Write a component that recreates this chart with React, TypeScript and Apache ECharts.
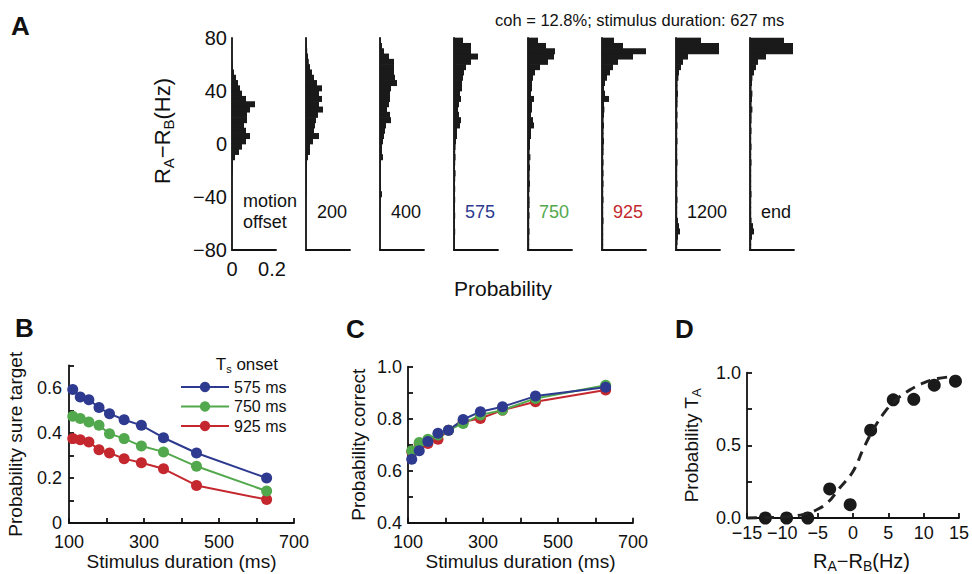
import React, { useEffect, useRef } from 'react';
import * as echarts from 'echarts';

const FONT = '"Liberation Sans", Arial, Helvetica, sans-serif';
const INK = '#111111';
const BAR = '#1a1a1a';
const BLUE = '#2d3a8f';
const GREEN = '#52a84d';
const RED = '#c4282e';

// ---- Panel A: histogram bins (Hz, bin centres, top to bottom; bins are 4 Hz wide) ----
const BIN_WIDTH = 4;
const binCenters = [
  78, 74, 70, 66, 62, 58, 54, 50, 46, 42,
  38, 34, 30, 26, 22, 18, 14, 10, 6, 2,
  -2, -6, -10, -14, -18, -22, -26, -30, -34, -38,
  -42, -46, -50, -54, -58, -62, -66, -70, -74, -78,
];
const histLabels = ['motion\noffset', '200', '400', '575', '750', '925', '1200', 'end'];
const histLabelColors = [INK, INK, INK, BLUE, GREEN, RED, INK, INK];

const histMotionOffset = [
  0, 0, 0, 0, 0.002, 0.004, 0.01, 0.02, 0.03, 0.04,
  0.05, 0.07, 0.115, 0.09, 0.075, 0.075, 0.06, 0.07, 0.09, 0.07,
  0.05, 0.035, 0.015, 0.005, 0.004, 0.002, 0, 0, 0, 0,
  0, 0, 0, 0, 0, 0, 0, 0, 0, 0,
];
const hist200 = [
  0.002, 0.004, 0.006, 0.01, 0.014, 0.02, 0.03, 0.04, 0.055, 0.08,
  0.065, 0.08, 0.065, 0.085, 0.06, 0.05, 0.045, 0.04, 0.065, 0.035,
  0.02, 0.02, 0.01, 0.005, 0.005, 0.004, 0.004, 0.003, 0.002, 0.002,
  0, 0, 0, 0, 0, 0, 0, 0, 0, 0,
];
const hist400 = [
  0.005, 0.01, 0.02, 0.045, 0.07, 0.07, 0.07, 0.075, 0.085, 0.055,
  0.05, 0.05, 0.045, 0.035, 0.05, 0.055, 0.03, 0.025, 0.02, 0.015,
  0.01, 0.01, 0.015, 0.005, 0.005, 0.004, 0.004, 0.004, 0.004, 0.01,
  0.003, 0.003, 0.002, 0.002, 0.002, 0.002, 0.002, 0, 0, 0,
];
const hist575 = [
  0.045, 0.085, 0.085, 0.12, 0.085, 0.06, 0.05, 0.045, 0.04, 0.04,
  0.03, 0.035, 0.025, 0.02, 0.025, 0.035, 0.03, 0.015, 0.015, 0.01,
  0.008, 0.006, 0.008, 0.006, 0.005, 0.008, 0.006, 0.005, 0.006, 0.005,
  0.006, 0.005, 0.004, 0.006, 0.005, 0.004, 0.006, 0.005, 0.004, 0.005,
];
const hist750 = [
  0.05, 0.09, 0.135, 0.13, 0.1, 0.06, 0.035, 0.025, 0.02, 0.02,
  0.015, 0.03, 0.02, 0.02, 0.015, 0.025, 0.03, 0.015, 0.015, 0.01,
  0.01, 0.008, 0.012, 0.008, 0.01, 0.008, 0.008, 0.01, 0.008, 0.006,
  0.008, 0.008, 0.006, 0.008, 0.006, 0.006, 0.008, 0.006, 0.006, 0.006,
];
const hist925 = [
  0.06, 0.105, 0.22, 0.155, 0.08, 0.055, 0.04, 0.025, 0.015, 0.01,
  0.015, 0.035, 0.01, 0.012, 0.01, 0.008, 0.01, 0.008, 0.008, 0.01,
  0.008, 0.008, 0.006, 0.008, 0.006, 0.008, 0.006, 0.008, 0.006, 0.006,
  0.008, 0.006, 0.006, 0.006, 0.008, 0.006, 0.006, 0.006, 0.006, 0.006,
];
const hist1200 = [
  0.125, 0.215, 0.215, 0.06, 0.035, 0.025, 0.015, 0.012, 0.008, 0.008,
  0.01, 0.008, 0.008, 0.006, 0.008, 0.006, 0.008, 0.006, 0.006, 0.008,
  0.006, 0.006, 0.006, 0.008, 0.006, 0.006, 0.006, 0.008, 0.006, 0.006,
  0.008, 0.006, 0.006, 0.006, 0.01, 0.015, 0.02, 0.01, 0.008, 0.006,
];
const histEnd = [
  0.17, 0.215, 0.215, 0.08, 0.04, 0.03, 0.02, 0.012, 0.01, 0.008,
  0.012, 0.01, 0.008, 0.012, 0.008, 0.008, 0.006, 0.008, 0.006, 0.006,
  0.008, 0.006, 0.006, 0.008, 0.006, 0.006, 0.006, 0.006, 0.006, 0.008,
  0.006, 0.006, 0.006, 0.006, 0.008, 0.015, 0.02, 0.01, 0.006, 0.006,
];
const histograms = [histMotionOffset, hist200, hist400, hist575, hist750, hist925, hist1200, histEnd];

// ---- Panels B & C ----
const seriesNames = ['575 ms', '750 ms', '925 ms'];
const durations = [110, 130, 153, 180, 208, 247, 293, 352, 440, 627];
const sure575 = [0.593, 0.56, 0.548, 0.513, 0.486, 0.459, 0.434, 0.379, 0.311, 0.2];
const sure750 = [0.474, 0.464, 0.449, 0.434, 0.397, 0.375, 0.342, 0.316, 0.252, 0.142];
const sure925 = [0.375, 0.37, 0.36, 0.326, 0.311, 0.286, 0.268, 0.241, 0.167, 0.104];
const correct575 = [0.644, 0.677, 0.712, 0.744, 0.756, 0.797, 0.827, 0.846, 0.887, 0.921];
const correct750 = [0.677, 0.708, 0.721, 0.737, 0.756, 0.782, 0.814, 0.833, 0.878, 0.929];
const correct925 = [0.673, 0.705, 0.705, 0.721, 0.756, 0.788, 0.801, 0.833, 0.865, 0.91];

// ---- Panel D ----
const diffHz = [-12.4, -9.4, -6.4, -3.3, -0.4, 2.5, 5.7, 8.6, 11.5, 14.5];
const probTA = [0, 0, 0, 0.2, 0.092, 0.604, 0.813, 0.817, 0.914, 0.942];
const fitHz = [-15, -12, -9, -7, -5, -3.5, -2, 0, 1.5, 3, 4.5, 6, 8, 10, 12, 14.5];
const fitProb = [0, 0.003, 0.01, 0.025, 0.06, 0.11, 0.2, 0.32, 0.48, 0.62, 0.73, 0.81, 0.88, 0.93, 0.96, 0.975];

const minus = (v: number | string) => String(v).replace('-', '\u2212');

export default function App() {
  const ref = useRef<HTMLDivElement>(null);

  useEffect(() => {
    if (!ref.current) return;
    const chart = echarts.init(ref.current, undefined, { renderer: 'svg' });

    const lineStyle = { color: INK, width: 1.8 };
    const histLeft = [232, 306, 380, 454, 528, 602, 676, 750];

    const grid: any[] = histLeft.map((l) => ({ left: l, top: 38, width: 44, height: 212 }));
    grid.push({ left: 69, top: 365.5, width: 225, height: 157.5 });
    grid.push({ left: 408, top: 366.7, width: 225, height: 156 });
    grid.push({ left: 747, top: 372.7, width: 215, height: 155 });

    const labelBase = { color: INK, fontFamily: FONT, fontSize: 18 };
    const nameBase = { color: INK, fontFamily: FONT, fontSize: 19 };

    const xAxis: any[] = histLeft.map((_, i) => ({
      type: 'value', gridIndex: i, min: 0, max: 0.22, interval: 0.1,
      axisLine: { show: true, onZero: false, lineStyle },
      axisTick: { show: false }, splitLine: { show: false },
      axisLabel: {
        show: i === 0, ...labelBase, fontSize: 20, margin: 9,
        formatter: (v: number) => (v === 0 ? '0' : Math.abs(v - 0.2) < 1e-9 ? '0.2' : ''),
      },
    }));
    const tickStyle = { show: true, inside: true, length: 5, lineStyle };
    xAxis.push({
      type: 'value', gridIndex: 8, min: 100, max: 700, interval: 100,
      axisLine: { show: true, onZero: false, lineStyle }, axisTick: tickStyle, splitLine: { show: false },
      axisLabel: { ...labelBase, margin: 10, formatter: (v: number) => ((v - 100) % 200 === 0 ? String(v) : '') },
      name: 'Stimulus duration (ms)', nameLocation: 'middle', nameGap: 28, nameTextStyle: nameBase,
    });
    xAxis.push({
      type: 'value', gridIndex: 9, min: 100, max: 700, interval: 100,
      axisLine: { show: true, onZero: false, lineStyle }, axisTick: tickStyle, splitLine: { show: false },
      axisLabel: { ...labelBase, margin: 10, formatter: (v: number) => ((v - 100) % 200 === 0 ? String(v) : '') },
      name: 'Stimulus duration (ms)', nameLocation: 'middle', nameGap: 28, nameTextStyle: nameBase,
    });
    xAxis.push({
      type: 'value', gridIndex: 10, min: -15, max: 15, interval: 5,
      axisLine: { show: true, onZero: false, lineStyle }, axisTick: tickStyle, splitLine: { show: false },
      axisLabel: { ...labelBase, margin: 6, formatter: (v: number) => minus(v) },
      name: '{n|R}{s|A}{n|\u2212R}{s|B}{n|(Hz)}', nameLocation: 'middle', nameGap: 31,
      nameTextStyle: {
        ...nameBase, padding: [0, 0, 0, 17],
        rich: {
          n: { fontSize: 20, lineHeight: 24, fontFamily: FONT, color: INK },
          s: { fontSize: 14, verticalAlign: 'bottom', fontFamily: FONT, color: INK },
        },
      },
    });

    const yAxis: any[] = histLeft.map((_, i) => ({
      type: 'value', gridIndex: i, min: -80, max: 80, interval: 40,
      axisLine: { show: true, onZero: false, lineStyle },
      axisTick: { show: false }, splitLine: { show: false },
      axisLabel: { show: i === 0, ...labelBase, fontSize: 20, margin: 5, formatter: (v: number) => minus(v) },
    }));
    yAxis.push({
      type: 'value', gridIndex: 8, min: 0, max: 0.7, interval: 0.1,
      axisLine: { show: true, onZero: false, lineStyle }, axisTick: tickStyle, splitLine: { show: false },
      axisLabel: {
        ...labelBase, margin: 7,
        formatter: (v: number) => {
          const t = Math.round(v * 10);
          if (t % 2 !== 0) return '';
          return t === 0 ? '0' : (t / 10).toFixed(1);
        },
      },
      name: 'Probability sure target', nameLocation: 'middle', nameGap: 44, nameTextStyle: nameBase,
    });
    yAxis.push({
      type: 'value', gridIndex: 9, min: 0.4, max: 1.0, interval: 0.1,
      axisLine: { show: true, onZero: false, lineStyle }, axisTick: tickStyle, splitLine: { show: false },
      axisLabel: {
        ...labelBase, margin: 6,
        formatter: (v: number) => {
          const t = Math.round(v * 10);
          return t % 2 === 0 ? (t / 10).toFixed(1) : '';
        },
      },
      name: 'Probability correct', nameLocation: 'middle', nameGap: 40, nameTextStyle: nameBase,
    });
    yAxis.push({
      type: 'value', gridIndex: 10, min: 0, max: 1, interval: 0.25,
      axisLine: { show: true, onZero: false, lineStyle }, axisTick: tickStyle, splitLine: { show: false },
      axisLabel: {
        ...labelBase, margin: 6,
        formatter: (v: number) => {
          const t = Math.round(v * 100);
          return t % 50 === 0 ? (t / 100).toFixed(1) : '';
        },
      },
      name: '{n|Probability T}{s|A}', nameLocation: 'middle', nameGap: 44,
      nameTextStyle: {
        ...nameBase,
        rich: {
          n: { fontSize: 19, lineHeight: 24, fontFamily: FONT, color: INK },
          s: { fontSize: 13, verticalAlign: 'bottom', fontFamily: FONT, color: INK },
        },
      },
    });

    // Histogram bars: one rect per bin, positioned through the axes' scales
    const renderBin = (_params: any, api: any) => {
      const p = api.value(0);
      const c = api.value(1);
      if (!(p > 0)) return null;
      const topRight = api.coord([p, c + BIN_WIDTH / 2]);
      const bottomLeft = api.coord([0, c - BIN_WIDTH / 2]);
      return {
        type: 'rect',
        shape: {
          x: bottomLeft[0],
          y: topRight[1] - 0.35,
          width: topRight[0] - bottomLeft[0],
          height: bottomLeft[1] - topRight[1] + 0.7,
        },
        style: { fill: BAR },
      };
    };

    const series: any[] = histograms.map((h, i) => ({
      type: 'custom', xAxisIndex: i, yAxisIndex: i, silent: true, clip: false,
      data: h.map((p, k) => [p, binCenters[k]]),
      renderItem: renderBin,
    }));

    const lineSeries = (name: string, color: string, vals: number[], gi: number) => ({
      type: 'line', name, xAxisIndex: gi, yAxisIndex: gi,
      data: durations.map((d, k) => [d, vals[k]]),
      symbol: 'circle', symbolSize: 11, showSymbol: true, clip: false,
      lineStyle: { color, width: 2 }, itemStyle: { color },
    });
    series.push(lineSeries(seriesNames[2], RED, sure925, 8));
    series.push(lineSeries(seriesNames[1], GREEN, sure750, 8));
    series.push(lineSeries(seriesNames[0], BLUE, sure575, 8));
    series.push(lineSeries(seriesNames[2], RED, correct925, 9));
    series.push(lineSeries(seriesNames[1], GREEN, correct750, 9));
    series.push(lineSeries(seriesNames[0], BLUE, correct575, 9));

    series.push({
      type: 'line', xAxisIndex: 10, yAxisIndex: 10, smooth: 0.4, showSymbol: false, clip: false,
      data: fitHz.map((x, k) => [x, fitProb[k]]),
      lineStyle: { color: '#222', width: 3, type: [10, 7] },
    });
    series.push({
      type: 'scatter', xAxisIndex: 10, yAxisIndex: 10, symbolSize: 13, clip: false,
      data: diffHz.map((x, k) => [x, probTA[k]]),
      itemStyle: { color: BAR, opacity: 1 },
    });

    const txt = (x: number, y: number, text: string, extra: any = {}) => ({
      type: 'text', x, y, silent: true,
      style: { text, fill: INK, fontFamily: FONT, fontSize: 18, align: 'left', verticalAlign: 'middle', ...extra },
    });

    const graphic: any[] = [
      txt(11, 26, 'A', { fontSize: 26, fontWeight: 'bold' }),
      txt(15, 328, 'B', { fontSize: 26, fontWeight: 'bold' }),
      txt(346, 329, 'C', { fontSize: 26, fontWeight: 'bold' }),
      txt(675, 329, 'D', { fontSize: 26, fontWeight: 'bold' }),
      txt(495, 20, 'coh = 12.8%; stimulus duration: 627 ms', { fontSize: 16.5 }),
      txt(503, 288, 'Probability', { fontSize: 21, align: 'center' }),
      {
        type: 'text', x: 162, y: 131, rotation: Math.PI / 2, silent: true,
        style: {
          text: '{n|R}{s|A}{n|\u2212R}{s|B}{n|(Hz)}', align: 'center', verticalAlign: 'middle',
          rich: {
            n: { fontSize: 22, lineHeight: 28, fontFamily: FONT, fill: INK },
            s: { fontSize: 15, verticalAlign: 'bottom', fontFamily: FONT, fill: INK },
          },
        },
      },
      {
        type: 'text', x: 278, y: 364, silent: true,
        style: {
          text: '{t|T}{s|s}{t| onset}', align: 'right', verticalAlign: 'middle',
          rich: {
            t: { fontSize: 17, lineHeight: 20, fontFamily: FONT, fill: INK },
            s: { fontSize: 11, verticalAlign: 'bottom', fontFamily: FONT, fill: INK },
          },
        },
      },
    ];
    histLeft.forEach((l, i) => {
      graphic.push(txt(l + 11, i === 0 ? 211.5 : 212, histLabels[i], {
        fill: histLabelColors[i], lineHeight: 21.6,
      }));
    });

    chart.setOption({
      animation: false,
      backgroundColor: '#ffffff',
      textStyle: { fontFamily: FONT },
      grid,
      xAxis,
      yAxis,
      series,
      legend: {
        data: seriesNames, orient: 'vertical', left: 175, top: 374,
        itemWidth: 48, itemHeight: 13, itemGap: 3.5, selectedMode: false,
        textStyle: { fontSize: 16, color: INK, fontFamily: FONT, lineHeight: 13 },
      },
      graphic,
    });

    return () => chart.dispose();
  }, []);

  return (
    <div
      ref={ref}
      style={{ position: 'fixed', left: 0, top: 0, width: 972, height: 574, background: '#fff' }}
    />
  );
}
